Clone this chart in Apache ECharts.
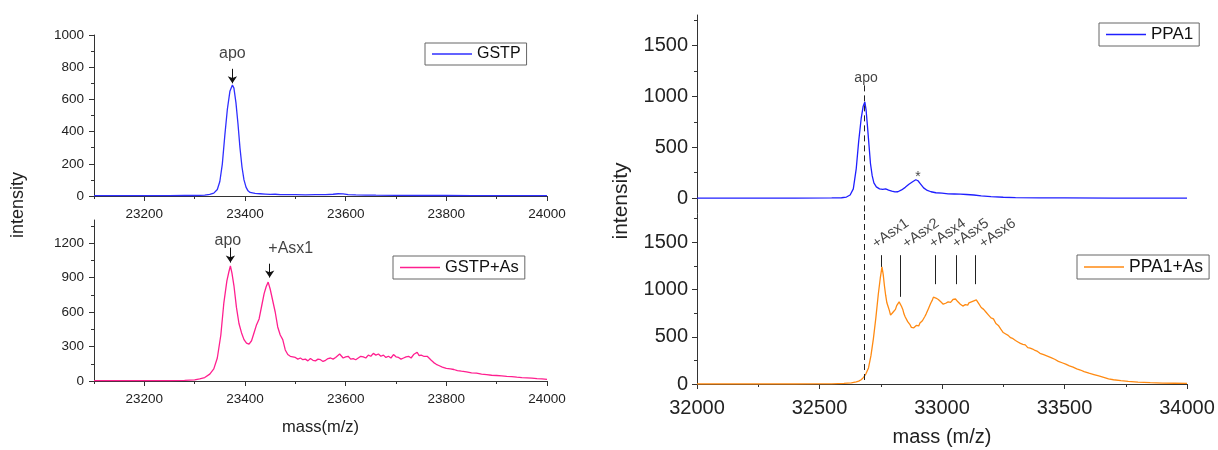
<!DOCTYPE html>
<html>
<head>
<meta charset="utf-8">
<script src="https://cdn.jsdelivr.net/npm/echarts@6.0.0/dist/echarts.min.js"></script>
<style>
html,body{margin:0;padding:0;background:#fff;}
#chart{width:1218px;height:450px;}
</style>
</head>
<body>
<div id="chart"></div>
<script>
// ---------------- data (mass, intensity) ----------------
const gstp = [
[23100,2],[23150,2],[23200,2],[23250,2],[23280,3],[23300,3],[23310,4],[23320,6],[23330,10],[23338,18],
[23345,40],[23350,90],[23355,200],[23360,380],[23365,540],[23370,650],[23375,690],[23378,670],[23382,580],
[23386,450],[23390,300],[23394,180],[23398,100],[23402,55],[23406,32],[23410,22],[23420,16],[23430,14],
[23440,12],[23450,10],[23460,11],[23470,9],[23480,8],[23500,8],[23520,7],[23540,8],[23560,9],[23575,11],
[23585,14],[23595,13],[23605,9],[23620,7],[23640,6],[23660,5],[23700,4],[23750,3],[23800,3],[23850,2],
[23900,2],[23950,2],[24000,2]
];
const gstpAs = [
[23100,3],[23150,3],[23200,3],[23250,4],[23280,6],[23300,10],[23310,18],[23320,30],[23330,60],[23338,105],
[23345,200],[23352,400],[23358,680],[23364,870],[23368,950],[23371,1000],[23374,940],[23378,830],[23383,640],
[23388,500],[23393,420],[23398,360],[23403,330],[23408,320],[23413,350],[23418,420],[23423,490],[23428,540],
[23433,650],[23438,760],[23442,820],[23446,860],[23450,800],[23455,700],[23460,600],[23465,470],[23470,400],
[23475,360],[23480,270],[23485,230],[23490,215],[23500,205],[23505,190],[23510,200],[23515,185],[23520,190],
[23525,175],[23530,195],[23535,180],[23540,175],[23545,190],[23550,185],[23555,170],[23560,180],[23565,195],
[23570,200],[23575,190],[23580,205],[23588,235],[23595,200],[23600,210],[23605,215],[23610,190],[23615,195],
[23620,185],[23625,200],[23630,215],[23635,210],[23640,200],[23645,225],[23650,215],[23655,240],[23660,225],
[23665,235],[23670,215],[23675,225],[23680,205],[23685,215],[23690,200],[23695,230],[23700,210],[23705,205],
[23710,190],[23715,200],[23720,210],[23725,215],[23730,200],[23735,230],[23742,250],[23746,220],[23750,225],
[23755,215],[23758,230],[23762,215],[23765,200],[23770,180],[23775,160],[23780,145],[23785,135],[23792,120],
[23800,110],[23808,105],[23815,100],[23822,90],[23830,85],[23840,80],[23850,70],[23860,68],[23870,60],
[23880,55],[23890,50],[23900,48],[23910,45],[23920,40],[23930,38],[23940,33],[23950,30],[23960,28],
[23970,25],[23980,20],[23990,18],[24000,15]
];
const ppa1 = [
[32000,0],[32200,0],[32400,0],[32550,1],[32590,3],[32610,10],[32625,30],[32638,90],[32650,290],[32660,560],
[32670,780],[32678,900],[32685,945],[32690,870],[32696,700],[32702,520],[32708,340],[32715,220],[32722,150],
[32732,110],[32745,90],[32758,85],[32770,90],[32782,78],[32795,68],[32808,60],[32820,62],[32835,80],
[32850,105],[32865,135],[32880,160],[32893,180],[32902,170],[32912,140],[32925,100],[32940,75],[32955,62],
[32975,52],[33000,48],[33025,42],[33050,40],[33075,38],[33100,35],[33130,30],[33160,22],[33200,14],
[33250,8],[33300,4],[33400,2],[33500,1],[33700,0],[34000,0]
];
const ppa1As = [
[32000,0],[32200,0],[32400,0],[32500,1],[32550,2],[32600,6],[32630,12],[32650,22],[32660,30],[32670,45],
[32680,70],[32690,110],[32700,170],[32710,300],[32720,480],[32730,700],[32740,950],[32748,1120],[32755,1240],
[32760,1160],[32765,1040],[32770,940],[32775,860],[32780,820],[32785,780],[32790,730],[32795,745],[32800,760],
[32805,740],[32810,790],[32815,830],[32820,850],[32825,870],[32830,860],[32835,820],[32840,790],[32845,740],
[32850,710],[32855,690],[32860,660],[32865,640],[32870,625],[32875,600],[32880,620],[32885,595],[32890,605],
[32895,620],[32900,630],[32905,615],[32910,645],[32915,660],[32920,670],[32925,690],[32930,715],[32935,740],
[32940,760],[32945,800],[32950,830],[32955,860],[32960,885],[32965,920],[32970,935],[32975,910],[32980,925],
[32985,895],[32990,880],[32995,870],[33000,860],[33005,845],[33010,830],[33015,855],[33020,850],[33025,870],
[33030,880],[33035,865],[33040,870],[33045,895],[33050,885],[33055,900],[33060,890],[33065,870],[33070,860],
[33075,845],[33080,840],[33085,825],[33090,820],[33095,840],[33100,850],[33105,835],[33110,860],[33115,850],
[33120,870],[33125,860],[33130,880],[33135,875],[33140,890],[33145,870],[33150,850],[33155,835],[33160,810],
[33170,790],[33180,760],[33190,730],[33200,700],[33210,690],[33220,640],[33230,620],[33240,580],[33250,545],
[33260,530],[33270,515],[33280,490],[33290,480],[33300,460],[33310,445],[33320,430],[33330,420],[33340,415],
[33350,385],[33360,380],[33370,370],[33380,355],[33390,345],[33400,325],[33415,310],[33430,295],[33445,280],
[33460,262],[33475,240],[33490,225],[33505,210],[33520,192],[33535,178],[33550,160],[33565,148],[33580,132],
[33600,115],[33620,100],[33640,85],[33660,70],[33680,55],[33700,45],[33730,35],[33760,28],[33800,20],
[33850,14],[33900,10],[33950,8],[34000,6]
];

// ---------------- ticks ----------------
const leftXMajor = [23200,23400,23600,23800,24000];
const leftXMinor = [23100,23300,23500,23700,23900];
const gstpYMajor = [0,200,400,600,800,1000];
const gstpYMinor = [100,300,500,700,900];
const gstpAsYMajor = [0,300,600,900,1200];
const gstpAsYMinor = [150,450,750,1050,1350];
const rightXMajor = [32000,32500,33000,33500,34000];
const rightXMinor = [32250,32750,33250,33750];
const rightYMajor = [0,500,1000,1500];
const rightYMinor = [250,750,1250,1750];

// ---------------- annotations ----------------
const gstpLabels = [{name:'apo', value:[23375,885]}];
const gstpArrows = [[23375,790,700]];
const gstpAsLabels = [{name:'apo', value:[23366,1220]},{name:'+Asx1', value:[23491,1148]}];
const gstpAsArrows = [[23371,1160,1030],[23449,1020,900]];
const ppa1Labels = [{name:'apo', value:[32690,1183]},{name:'*', value:[32902,205]}];
const apoMass = 32682;
const ppa1AsLines = [[32754,1364,1240],[32829,1364,923],[32971,1364,1057],[33057,1364,1057],[33137,1364,1057]];
const ppa1AsLabels = [
  {name:'+Asx1', value:[32722,1470]},{name:'+Asx2', value:[32846,1470]},{name:'+Asx4', value:[32955,1470]},
  {name:'+Asx5', value:[33049,1470]},{name:'+Asx6', value:[33159,1470]}
];

const FONT = 'Liberation Sans, Arial, Helvetica, sans-serif';
const AX = '#333';
const plain = v => String(v);

const grids = [
  {left:94, top:35, width:453, height:161},
  {left:94, top:220, width:453, height:161},
  {left:697, top:15, width:490, height:198.3},
  {left:697, top:214, width:490, height:170}
];

const xAxes = [], yAxes = [];
function addX(g, min, max, majors, minors, fs, show, margin, name, nameGap, nameFs){
  xAxes.push({type:'value', gridIndex:g, min, max, position:'bottom', show,
    axisLine:{show:true, onZero:false, lineStyle:{color:AX, width:1}},
    axisTick:{show:true, customValues:majors, length:5, lineStyle:{color:AX}},
    axisLabel:{show:true, customValues:majors, formatter:plain, fontSize:fs, color:'#222', margin, fontFamily:FONT},
    splitLine:{show:false},
    name: name||'', nameLocation:'middle', nameGap: nameGap||0,
    nameTextStyle:{fontSize:nameFs||12, color:'#222', fontFamily:FONT}
  });
  xAxes.push({type:'value', gridIndex:g, min, max, position:'bottom', show,
    axisLine:{show:false, onZero:false}, axisTick:{show:true, customValues:minors, length:3, lineStyle:{color:AX}},
    axisLabel:{show:false}, splitLine:{show:false}});
}
function addY(g, min, max, majors, minors, fs, margin){
  yAxes.push({type:'value', gridIndex:g, min, max, position:'left',
    axisLine:{show:true, onZero:false, lineStyle:{color:AX, width:1}},
    axisTick:{show:true, customValues:majors, length:5, lineStyle:{color:AX}},
    axisLabel:{show:true, customValues:majors, formatter:plain, fontSize:fs, color:'#222', margin, fontFamily:FONT},
    splitLine:{show:false}});
  yAxes.push({type:'value', gridIndex:g, min, max, position:'left',
    axisLine:{show:false, onZero:false}, axisTick:{show:true, customValues:minors, length:3, lineStyle:{color:AX}},
    axisLabel:{show:false}, splitLine:{show:false}});
}
addX(0, 23100, 24000, leftXMajor, leftXMinor, 13.5, true, 11);
addX(1, 23100, 24000, leftXMajor, leftXMinor, 13.5, true, 11, 'mass(m/z)', 38, 16.5);
addX(2, 32000, 34000, rightXMajor, rightXMinor, 20, false, 14);
addX(3, 32000, 34000, rightXMajor, rightXMinor, 20, true, 14, 'mass (m/z)', 43, 20);
addY(0, 0, 1000, gstpYMajor, gstpYMinor, 13.5, 10);
addY(1, 0, 1400, gstpAsYMajor, gstpAsYMinor, 13.5, 10);
addY(2, -150, 1800, rightYMajor, rightYMinor, 20, 9);
addY(3, 0, 1800, rightYMajor, rightYMinor, 20, 9);

function segs(arr){
  return arr.map(a => [{coord:[a[0],a[1]]},{coord:[a[0],a[2]]}]);
}
function lineSeries(name, data, g, color, markLine){
  const s = {name, type:'line', data, xAxisIndex:2*g, yAxisIndex:2*g, showSymbol:false, symbol:'none',
    lineStyle:{color, width:1.3}, itemStyle:{color}, silent:true, z:3};
  if (markLine) s.markLine = markLine;
  return s;
}
function labelSeries(name, data, g, fs, extra){
  return {name, type:'scatter', data, xAxisIndex:2*g, yAxisIndex:2*g, symbolSize:0, silent:true, z:5,
    label:Object.assign({show:true, formatter:'{b}', position:'inside', fontSize:fs, color:'#111', fontFamily:FONT}, extra||{})};
}
const arrowML = (arr) => ({silent:true, symbol:['none','arrow'], symbolSize:7, animation:false,
  lineStyle:{color:'#111', width:1, type:'solid'}, label:{show:false}, emphasis:{disabled:true}, data:segs(arr)});
const plainML = (arr, type) => ({silent:true, symbol:['none','none'], animation:false,
  lineStyle:{color:'#222', width:1, type:type}, label:{show:false}, emphasis:{disabled:true}, data:segs(arr)});

const series = [
  lineSeries('GSTP', gstp, 0, '#2f2fff', arrowML(gstpArrows)),
  lineSeries('GSTP+As', gstpAs, 1, '#ff1f8f', arrowML(gstpAsArrows)),
  lineSeries('PPA1', ppa1, 2, '#1f1fff', plainML([[apoMass,1108,-150]], [6,4])),
  lineSeries('PPA1+As', ppa1As, 3, '#ff8a12', {silent:true, symbol:['none','none'], animation:false, label:{show:false},
     emphasis:{disabled:true},
     data: segs([[apoMass,1800,0]]).map(d=>[Object.assign({lineStyle:{type:[6,4],color:'#222',width:1}},d[0]),d[1]])
       .concat(segs(ppa1AsLines).map(d=>[Object.assign({lineStyle:{type:'solid',color:'#222',width:1}},d[0]),d[1]]))}),
  labelSeries('lab0', gstpLabels, 0, 16),
  labelSeries('lab1', gstpAsLabels, 1, 16),
  labelSeries('lab2', ppa1Labels, 2, 14),
  labelSeries('lab3', ppa1AsLabels, 3, 14.5, {position:[0,0], align:'left', verticalAlign:'middle', rotate:35})
];

const legendBase = {orient:'horizontal', selectedMode:false, itemWidth:40, itemHeight:1.5, icon:'rect',
  borderColor:'#666', borderWidth:1, borderRadius:0, padding:[3,6,3,7], itemGap:0,
  textStyle:{color:'#111', fontFamily:FONT}};
const legends = [
  Object.assign({}, legendBase, {data:['GSTP'], left:425, top:43, textStyle:Object.assign({}, legendBase.textStyle, {fontSize:16})}),
  Object.assign({}, legendBase, {data:['GSTP+As'], left:393, top:256, textStyle:Object.assign({}, legendBase.textStyle, {fontSize:16.5})}),
  Object.assign({}, legendBase, {data:['PPA1'], left:1099, top:23, textStyle:Object.assign({}, legendBase.textStyle, {fontSize:17})}),
  Object.assign({}, legendBase, {data:['PPA1+As'], left:1077, top:255, textStyle:Object.assign({}, legendBase.textStyle, {fontSize:17.5})})
];

const chart = echarts.init(document.getElementById('chart'), null, {renderer:'canvas'});
chart.setOption({
  animation:false,
  backgroundColor:'#fff',
  textStyle:{fontFamily:FONT},
  grid: grids,
  xAxis: xAxes,
  yAxis: yAxes,
  legend: legends,
  series: series,
  graphic: [
    {type:'text', x:18, y:205, rotation:Math.PI/2, style:{text:'intensity', font:'18px ' + FONT, fill:'#222',
      align:'center', verticalAlign:'middle', textAlign:'center', textVerticalAlign:'middle'}},
    {type:'text', x:621, y:201, rotation:Math.PI/2, style:{text:'intensity', font:'21px ' + FONT, fill:'#222',
      align:'center', verticalAlign:'middle', textAlign:'center', textVerticalAlign:'middle'}}
  ]
});
</script>
</body>
</html>
